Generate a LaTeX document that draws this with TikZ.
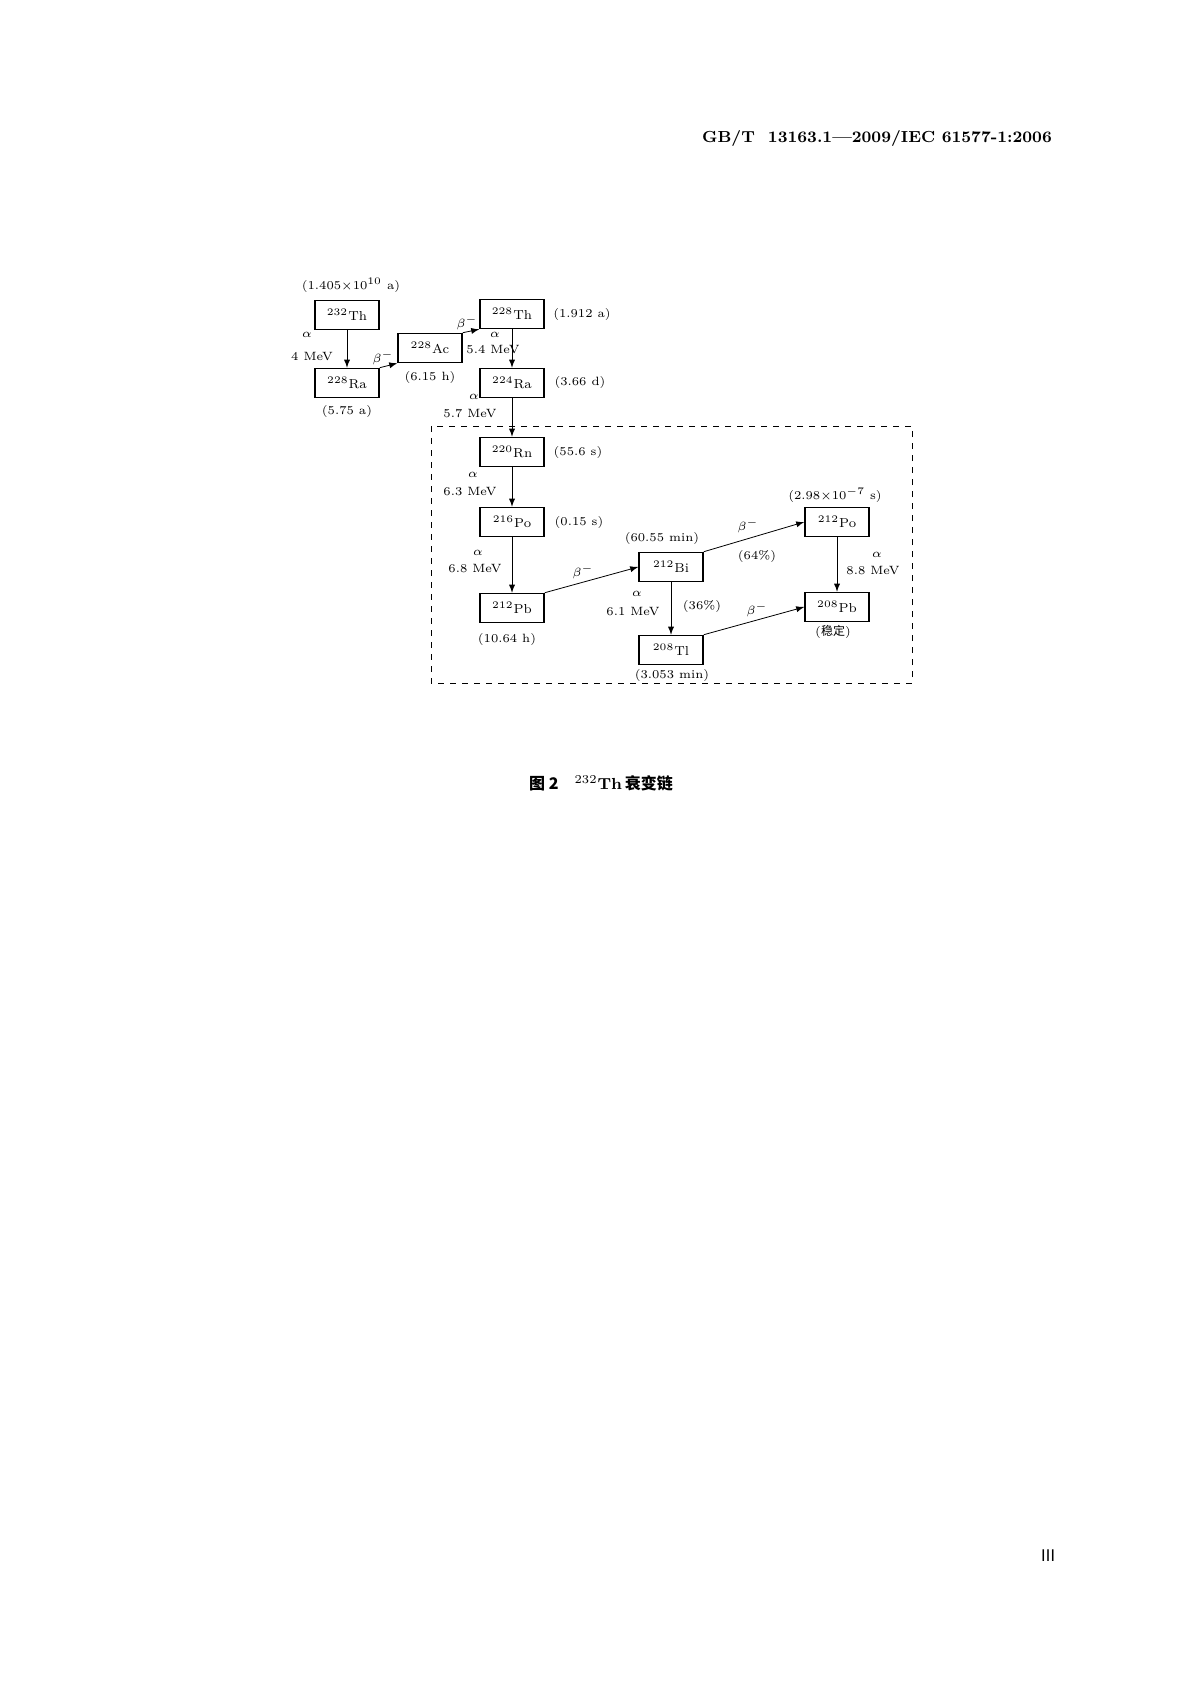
\documentclass[tikz,border=0pt]{standalone}
\usepackage{fontspec}
\newfontfamily\cjk{Noto Sans CJK SC}
\usepackage{tikz}

\begin{document}
\begin{tikzpicture}[x=0.5pt,y=-0.5pt,>=latex,
  nuc/.style={draw,line width=0.8pt,minimum width=32pt,minimum height=14.5pt,inner sep=0pt,font=\fontsize{6.5}{8}\selectfont},
  lbl/.style={font=\fontsize{6}{7}\selectfont,inner sep=0pt},
  decay/.style={->,thin}]
\useasboundingbox (0,0) rectangle (1191,1684);

\node[font=\fontsize{8}{10}\selectfont\bfseries] (hdr) at (877,139) {GB/T\ \ 13163.1---2009/IEC\ 61577-1:2006};

% nuclides
\node[nuc] (Th232) at (347,315) {$^{232}$Th};
\node[nuc] (Ra228) at (347,383) {$^{228}$Ra};
\node[nuc] (Ac228) at (430,348) {$^{228}$Ac};
\node[nuc] (Th228) at (512,314) {$^{228}$Th};
\node[nuc] (Ra224) at (512,383) {$^{224}$Ra};
\node[nuc] (Rn220) at (512,452) {$^{220}$Rn};
\node[nuc] (Po216) at (512,522) {$^{216}$Po};
\node[nuc] (Pb212) at (512,608) {$^{212}$Pb};
\node[nuc] (Bi212) at (671,567) {$^{212}$Bi};
\node[nuc] (Tl208) at (671,650) {$^{208}$Tl};
\node[nuc] (Po212) at (837,522) {$^{212}$Po};
\node[nuc] (Pb208) at (837,607) {$^{208}$Pb};

\draw[dashed,thin] (431,426) rectangle (912,683);

% half lives
\node[lbl] (t1) at (351,285) {(1.405$\times$10$^{10}$ a)};
\node[lbl] (t2) at (347,412) {(5.75 a)};
\node[lbl] (t3) at (430,378) {(6.15 h)};
\node[lbl] (t4) at (582,315) {(1.912 a)};
\node[lbl] (t5) at (580,383) {(3.66 d)};
\node[lbl] (t6) at (578,452) {(55.6 s)};
\node[lbl] (t7) at (579,522) {(0.15 s)};
\node[lbl] (t8) at (507,639) {(10.64 h)};
\node[lbl] (t9) at (662,538) {(60.55 min)};
\node[lbl] (t10) at (672,675) {(3.053 min)};
\node[lbl] (t11) at (835,495) {(2.98$\times$10$^{-7}$ s)};
\node[lbl] (t12) at (833,632) {({\cjk 稳定})};

% decays
\draw[decay] (Th232) -- (Ra228);
\draw[decay] (Ra228.north east) -- (Ac228.south west);
\draw[decay] (Ac228.north east) -- (Th228.south west);
\draw[decay] (Th228) -- (Ra224);
\draw[decay] (Ra224) -- (Rn220);
\draw[decay] (Rn220) -- (Po216);
\draw[decay] (Po216) -- (Pb212);
\draw[decay] (Pb212.north east) -- (Bi212.west);
\draw[decay] (Bi212.north east) -- (Po212.west);
\draw[decay] (Bi212) -- (Tl208);
\draw[decay] (Tl208.north east) -- (Pb208.west);
\draw[decay] (Po212) -- (Pb208);

% energies
\node[lbl] (a1) at (307,335) {$\alpha$};
\node[lbl] (e1) at (312,357) {4 MeV};
\node[lbl] (b1) at (383,358) {$\beta^-$};
\node[lbl] (b2) at (467,323) {$\beta^-$};
\node[lbl] (a2) at (495,335) {$\alpha$};
\node[lbl] (e2) at (493,350) {5.4 MeV};
\node[lbl] (a3) at (474,397) {$\alpha$};
\node[lbl] (e3) at (470,414) {5.7 MeV};
\node[lbl] (a4) at (473,475) {$\alpha$};
\node[lbl] (e4) at (470,492) {6.3 MeV};
\node[lbl] (a5) at (478,553) {$\alpha$};
\node[lbl] (e5) at (475,569) {6.8 MeV};
\node[lbl] (b3) at (583,572) {$\beta^-$};
\node[lbl] (b4) at (748,526) {$\beta^-$};
\node[lbl] (p1) at (757,556) {(64\%)};
\node[lbl] (a6) at (877,555) {$\alpha$};
\node[lbl] (e6) at (873,571) {8.8 MeV};
\node[lbl] (a7) at (637,594) {$\alpha$};
\node[lbl] (e7) at (633,612) {6.1 MeV};
\node[lbl] (p2) at (702,606) {(36\%)};
\node[lbl] (b5) at (757,610) {$\beta^-$};

\node[font=\fontsize{8}{10}\selectfont\bfseries] (cap) at (601,783) {{\cjk 图 2}\quad $^{232}$Th\,{\cjk 衰变链}};
\node[font=\fontsize{8}{10}\selectfont] (pg) at (1048,1556) {{\cjk Ⅲ}};
\end{tikzpicture}
\end{document}
